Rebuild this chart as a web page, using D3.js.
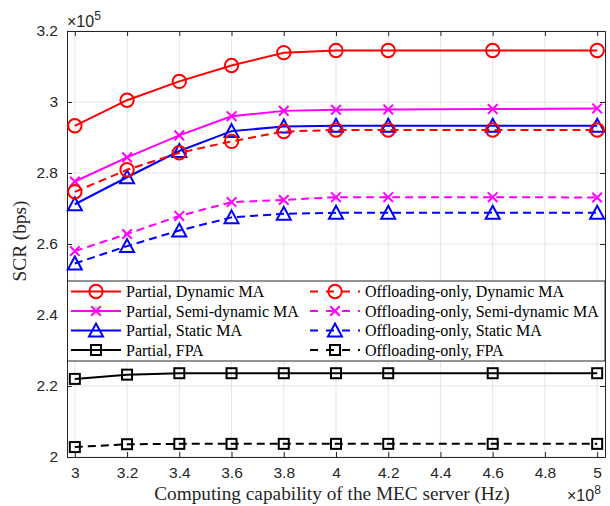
<!DOCTYPE html>
<html><head><meta charset="utf-8">
<script src="https://cdn.jsdelivr.net/npm/d3@7"></script>
<style>body{margin:0;background:#fff}svg{display:block}</style>
</head><body><svg id="c" width="610" height="506"></svg>
<script>
// ---- data ----
const xValues = [3, 3.2, 3.4, 3.6, 3.8, 4, 4.2, 4.6, 5];
const partialDynamic = [2.933, 3.005, 3.058, 3.103, 3.139, 3.145, 3.145, 3.145, 3.145];
const partialSemi = [2.776, 2.844, 2.906, 2.960, 2.975, 2.978, 2.979, 2.980, 2.982];
const partialStatic = [2.712, 2.788, 2.862, 2.918, 2.931, 2.933, 2.933, 2.933, 2.933];
const partialFPA = [2.220, 2.232, 2.236, 2.236, 2.236, 2.236, 2.236, 2.236, 2.236];
const offDynamic = [2.747, 2.809, 2.857, 2.889, 2.917, 2.921, 2.921, 2.921, 2.921];
const offSemi = [2.580, 2.628, 2.679, 2.718, 2.724, 2.732, 2.732, 2.732, 2.731];
const offStatic = [2.545, 2.594, 2.638, 2.675, 2.685, 2.688, 2.688, 2.688, 2.688];
const offFPA = [2.028, 2.036, 2.037, 2.037, 2.037, 2.037, 2.037, 2.037, 2.037];
const seriesNames = ["Partial, Dynamic MA", "Partial, Semi-dynamic MA", "Partial, Static MA", "Partial, FPA",
  "Offloading-only, Dynamic MA", "Offloading-only, Semi-dynamic MA", "Offloading-only, Static MA", "Offloading-only, FPA"];
const xTicks = [3, 3.2, 3.4, 3.6, 3.8, 4, 4.2, 4.4, 4.6, 4.8, 5];
const yTicks = [2, 2.2, 2.4, 2.6, 2.8, 3, 3.2];

const series = [
  {name: seriesNames[0], vals: partialDynamic, color: "#ff0000", dash: false, marker: "circle"},
  {name: seriesNames[1], vals: partialSemi, color: "#ff00ff", dash: false, marker: "x"},
  {name: seriesNames[2], vals: partialStatic, color: "#0000ff", dash: false, marker: "tri"},
  {name: seriesNames[3], vals: partialFPA, color: "#000000", dash: false, marker: "square"},
  {name: seriesNames[4], vals: offDynamic, color: "#ff0000", dash: true, marker: "circle"},
  {name: seriesNames[5], vals: offSemi, color: "#ff00ff", dash: true, marker: "x"},
  {name: seriesNames[6], vals: offStatic, color: "#0000ff", dash: true, marker: "tri"},
  {name: seriesNames[7], vals: offFPA, color: "#000000", dash: true, marker: "square"}
];

// ---- layout ----
const L = 67, R = 605, T = 31, B = 457;
const svg = d3.select("#c");
const x = d3.scaleLinear().domain([2.97, 5.03]).range([L, R]);
const y = d3.scaleLinear().domain([2, 3.2]).range([B, T]);
const axisColor = "#262626";
const tickFont = "'Liberation Sans', Arial, Helvetica, sans-serif";
const serif = "'Liberation Serif', 'Times New Roman', serif";

// grid
const g = svg.append("g");
g.selectAll(".gx").data(xTicks).enter().append("line")
  .attr("x1", d => x(d)).attr("x2", d => x(d)).attr("y1", T).attr("y2", B)
  .attr("stroke", "#e5e5e5").attr("stroke-width", 1);
g.selectAll(".gy").data(yTicks).enter().append("line")
  .attr("x1", L).attr("x2", R).attr("y1", d => y(d)).attr("y2", d => y(d))
  .attr("stroke", "#e5e5e5").attr("stroke-width", 1);

// axes via d3 axes (ticks inward)
const fmt = d => String(+d.toFixed(1));
const ax = svg.append("g").attr("transform", `translate(0,${B})`)
  .call(d3.axisBottom(x).tickValues(xTicks).tickFormat(fmt).tickSizeInner(-5).tickSizeOuter(0).tickPadding(10));
const axTop = svg.append("g").attr("transform", `translate(0,${T})`)
  .call(d3.axisTop(x).tickValues(xTicks).tickFormat("").tickSizeInner(-5).tickSizeOuter(0));
const ay = svg.append("g").attr("transform", `translate(${L},0)`)
  .call(d3.axisLeft(y).tickValues(yTicks).tickFormat(fmt).tickSizeInner(-5).tickSizeOuter(0).tickPadding(9));
const ayR = svg.append("g").attr("transform", `translate(${R},0)`)
  .call(d3.axisRight(y).tickValues(yTicks).tickFormat("").tickSizeInner(-5).tickSizeOuter(0));
[ax, axTop, ay, ayR].forEach(a => {
  a.select(".domain").attr("stroke", axisColor).attr("stroke-width", 1);
  a.selectAll(".tick line").attr("stroke", axisColor);
  a.selectAll(".tick text").attr("fill", axisColor).style("font-family", tickFont).style("font-size", "15.5px");
});
ax.selectAll(".tick text").attr("dy", "0.71em");

// lines
const line = d3.line().x((d, i) => x(xValues[i])).y(d => y(d));
const plot = svg.append("g");

function drawMarker(sel, type, cx, cy, color) {
  if (type === "circle") {
    sel.append("circle").attr("cx", cx).attr("cy", cy).attr("r", 6.7)
      .attr("fill", "none").attr("stroke", color).attr("stroke-width", 2);
  } else if (type === "x") {
    const s = 4.8;
    sel.append("path").attr("d", `M${cx-s},${cy-s}L${cx+s},${cy+s}M${cx-s},${cy+s}L${cx+s},${cy-s}`)
      .attr("fill", "none").attr("stroke", color).attr("stroke-width", 2);
  } else if (type === "tri") {
    const h = 7;
    sel.append("path").attr("d", `M${cx},${cy-h}L${cx+h},${cy+h*0.85}L${cx-h},${cy+h*0.85}Z`)
      .attr("fill", "none").attr("stroke", color).attr("stroke-width", 2);
  } else if (type === "square") {
    const s = 5;
    sel.append("rect").attr("x", cx - s).attr("y", cy - s).attr("width", 2 * s).attr("height", 2 * s)
      .attr("fill", "none").attr("stroke", color).attr("stroke-width", 2);
  }
}

series.forEach(s => {
  plot.append("path").datum(s.vals).attr("d", line).attr("fill", "none")
    .attr("stroke", s.color).attr("stroke-width", 2)
    .attr("stroke-dasharray", s.dash ? "8,5" : null);
  s.vals.forEach((v, i) => drawMarker(plot, s.marker, x(xValues[i]), y(v), s.color));
});

// legend
const lg = svg.append("g");
const lgTop = 281, lgBot = 361, lgL = 67, lgR = 605;
lg.append("rect").attr("x", lgL + 0.5).attr("y", lgTop).attr("width", lgR - lgL - 0.5).attr("height", lgBot - lgTop)
  .attr("fill", "#fff").attr("stroke", axisColor).attr("stroke-width", 1);
const rowY = [291.5, 311, 330.5, 350];
series.forEach((s, k) => {
  const col = k < 4 ? 0 : 1, row = k % 4;
  const x0 = col === 0 ? 71 : 310;
  const cy = rowY[row];
  lg.append("line").attr("x1", x0).attr("x2", x0 + 50).attr("y1", cy).attr("y2", cy)
    .attr("stroke", s.color).attr("stroke-width", 2)
    .attr("stroke-dasharray", s.dash ? "8,8" : null);
  drawMarker(lg, s.marker, x0 + 25, cy, s.color);
  lg.append("text").attr("x", x0 + 55).attr("y", cy).attr("dy", "0.35em")
    .style("font-family", serif).style("font-size", "16px").attr("fill", "#000").text(s.name);
});

// labels
svg.append("text").attr("x", (L + R) / 2 - 4).attr("y", 500).attr("text-anchor", "middle")
  .style("font-family", serif).style("font-size", "19.3px").attr("fill", axisColor)
  .text("Computing capability of the MEC server (Hz)");
svg.append("text").attr("transform", `translate(26,${(T + B) / 2 - 3}) rotate(-90)`).attr("text-anchor", "middle")
  .style("font-family", serif).style("font-size", "19.3px").attr("fill", axisColor)
  .text("SCR (bps)");

// exponent labels
const e1 = svg.append("text").attr("x", 67).attr("y", 27).style("font-family", tickFont).style("font-size", "16px").attr("fill", axisColor);
e1.append("tspan").text("\u00d710");
e1.append("tspan").attr("dy", -7).style("font-size", "12px").text("5");
const e2 = svg.append("text").attr("x", 567).attr("y", 501).style("font-family", tickFont).style("font-size", "16px").attr("fill", axisColor);
e2.append("tspan").text("\u00d710");
e2.append("tspan").attr("dy", -7).style("font-size", "12px").text("8");
</script>
</body></html>
